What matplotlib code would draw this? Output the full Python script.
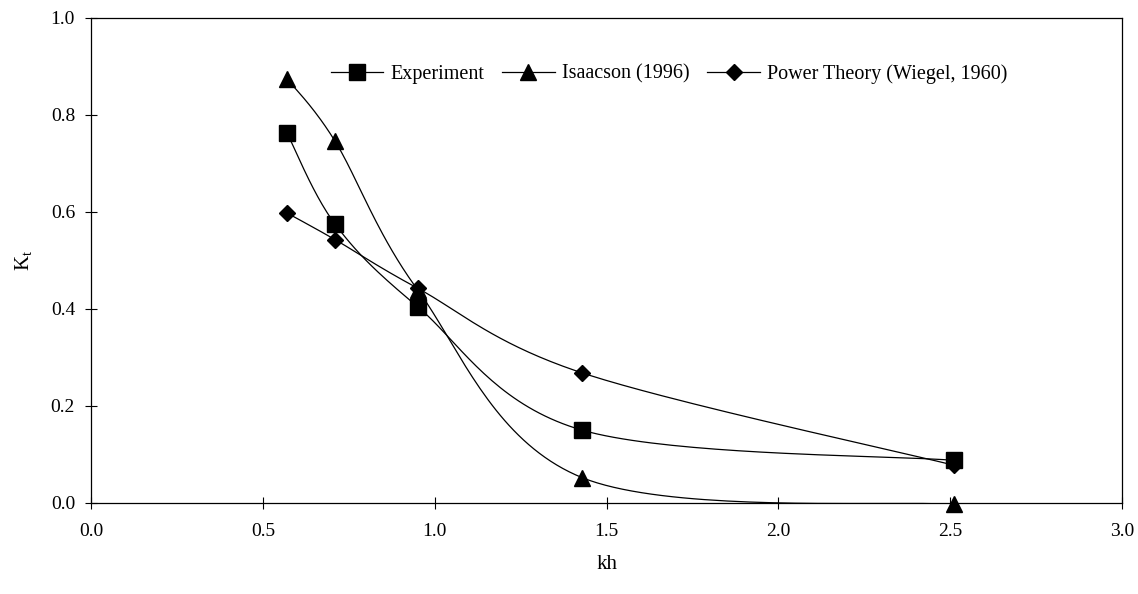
import numpy as np
import matplotlib
matplotlib.use("Agg")
import matplotlib.pyplot as plt

plt.rcParams['font.family'] = ['Liberation Serif', 'DejaVu Serif']
plt.rcParams['mathtext.default'] = 'regular'

kh = [0.57, 0.71, 0.95, 1.43, 2.51]
experiment = [0.763, 0.575, 0.405, 0.150, 0.088]
isaacson = [0.875, 0.746, 0.440, 0.052, -0.003]
power = [0.598, 0.543, 0.443, 0.268, 0.078]

series_names = ["Experiment", "Isaacson (1996)", "Power Theory (Wiegel, 1960)"]
x_ticks = [0.0, 0.5, 1.0, 1.5, 2.0, 2.5, 3.0]
y_ticks = [0.0, 0.2, 0.4, 0.6, 0.8, 1.0]


def smooth(x, y, n=40):
    """Excel-like smoothed line: cubic Bezier through the points (Catmull-Rom)."""
    P = np.column_stack([np.asarray(x, float), np.asarray(y, float)])
    out = []
    for i in range(len(P) - 1):
        p0 = P[i - 1] if i > 0 else P[i]
        p1 = P[i]
        p2 = P[i + 1]
        p3 = P[i + 2] if i + 2 < len(P) else P[i + 1]
        c1 = p1 + (p2 - p0) / 6.0
        c2 = p2 - (p3 - p1) / 6.0
        t = np.linspace(0, 1, n)[:, None]
        seg = ((1 - t) ** 3) * p1 + 3 * ((1 - t) ** 2) * t * c1 + 3 * (1 - t) * t ** 2 * c2 + t ** 3 * p2
        out.append(seg if i == 0 else seg[1:])
    s = np.vstack(out)
    return s[:, 0], s[:, 1]


fig = plt.figure(figsize=(11.38, 5.94), dpi=100)
ax = fig.add_axes([0.0800, 0.1532, 0.9060, 0.8165])

styles = [("s", 11), ("^", 11), ("D", 8.5)]
for data, name, (mk, ms) in zip([experiment, isaacson, power], series_names, styles):
    sx, sy = smooth(kh, data)
    ax.plot(sx, sy, color="black", lw=0.9, zorder=2)
    ax.plot(kh, data, linestyle="none", marker=mk, ms=ms, color="black",
            zorder=3, clip_on=False)
    ax.plot([], [], color="black", lw=0.9, marker=mk, ms=ms, label=name)

ax.set_xlim(0, 3.0)
ax.set_ylim(0, 1.0)
ax.set_xticks(x_ticks)
ax.set_yticks(y_ticks)
ax.set_xticklabels([f"{v:.1f}" for v in x_ticks])
ax.set_yticklabels([f"{v:.1f}" for v in y_ticks])
ax.tick_params(direction="inout", length=9, width=0.8, labelsize=14)
ax.tick_params(axis="y", pad=7)
ax.tick_params(axis="x", pad=10)
for sp in ax.spines.values():
    sp.set_linewidth(0.9)

ax.set_xlabel("kh", fontsize=15, labelpad=11)
ax.set_ylabel("K$_t$", fontsize=15, labelpad=12)

ax.legend(loc="center left", bbox_to_anchor=(0.2325, 0.885), ncol=3, frameon=False,
          fontsize=14.5, handlelength=2.6, columnspacing=0.9, handletextpad=0.35,
          borderaxespad=0, borderpad=0)

fig.savefig("out.png", dpi=100)
